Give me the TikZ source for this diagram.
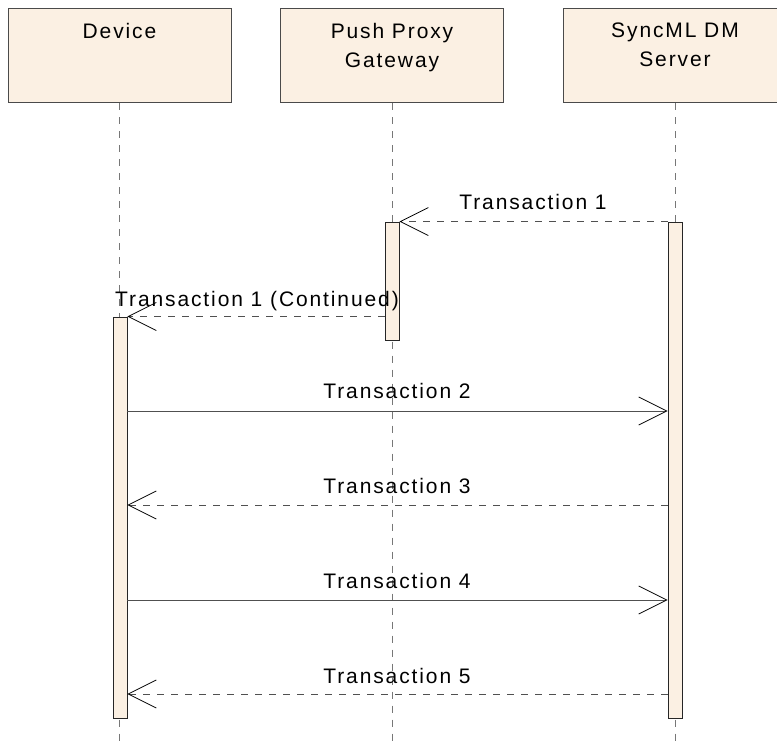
\documentclass[tikz,border=0pt]{standalone}
\usepackage{fontspec}
\setmainfont{Liberation Sans}[LetterSpace=9]
\usetikzlibrary{arrows.meta}
\definecolor{boxfill}{HTML}{FBF0E3}
\definecolor{boxedge}{HTML}{4A4A4A}
\definecolor{lifegray}{HTML}{777777}
\definecolor{msggray}{HTML}{505050}
\begin{document}
\begin{tikzpicture}[x=1pt,y=-1pt,
  txt/.style={font=\fontsize{21}{29}\selectfont, inner sep=0pt, align=center},
  headbox/.style={draw=boxedge, fill=boxfill, line width=1pt,
    minimum width=223pt, minimum height=94pt, inner sep=0pt},
  headtxt/.style={txt, anchor=north},
  lifeline/.style={draw=lifegray, line width=1pt, dash pattern=on 7pt off 7pt},
  actbar/.style={draw=black!85, fill=boxfill, line width=0.9pt,
    minimum width=14pt, inner sep=0pt},
  tip/.style={-{Straight Barb[length=28pt,width=28pt,line width=0.8pt,color=black]}},
  callmsg/.style={tip, draw=msggray, line width=1pt},
  replymsg/.style={tip, draw=msggray, line width=1pt, dash pattern=on 7pt off 7pt},
  msglbl/.style={txt, anchor=base}]
\useasboundingbox (0,0) rectangle (777,746);
\clip (0,0) rectangle (777,746);

% participant heads
\node[headbox] (dev) at (119.5,56) {};
\node[headbox] (gw)  at (392,56) {};
\node[headbox] (srv) at (675,56) {};
\node[headtxt] (devtxt) at (119.5,23) {Device};
\node[headtxt] (gwtxt)  at (392,23) {Push Proxy\\Gateway};
\node[headtxt] (srvtxt) at (675,23) {SyncML DM\\Server};

% lifelines
\coordinate (bottom) at (0,746);
\draw[lifeline] (dev.south) -- (dev.south |- bottom);
\draw[lifeline] (gw.south)  -- (gw.south |- bottom);
\draw[lifeline] (srv.south) -- (srv.south |- bottom);

% activation bars
\node[actbar, minimum height=118pt] (gwbar)  at (392,281) {};
\node[actbar, minimum height=496pt] (srvbar) at (675,470) {};
\node[actbar, minimum height=401pt] (devbar) at (120,517.5) {};

% message rows
\coordinate (m1c) at (0,316.5);
\coordinate (m2) at (0,411);
\coordinate (m3) at (0,505);
\coordinate (m4) at (0,600);
\coordinate (m5) at (0,694);

% messages
\draw[replymsg] (srvbar.north west) -- (gwbar.north east);
\draw[replymsg] (gwbar.west |- m1c) -- (devbar.east |- m1c);
\draw[callmsg]  (devbar.east |- m2) -- (srvbar.west |- m2);
\draw[replymsg] (srvbar.west |- m3) -- (devbar.east |- m3);
\draw[callmsg]  (devbar.east |- m4) -- (srvbar.west |- m4);
\draw[replymsg] (srvbar.west |- m5) -- (devbar.east |- m5);

% message labels
\node[msglbl] (l1)  at (533,210) {Transaction 1};
\node[msglbl] (l1c) at (257,306) {Transaction 1 (Continued)};
\node[msglbl] (l2)  at (397,398) {Transaction 2};
\node[msglbl] (l3)  at (397,493) {Transaction 3};
\node[msglbl] (l4)  at (397,588) {Transaction 4};
\node[msglbl] (l5)  at (397,683) {Transaction 5};
\end{tikzpicture}
\end{document}
